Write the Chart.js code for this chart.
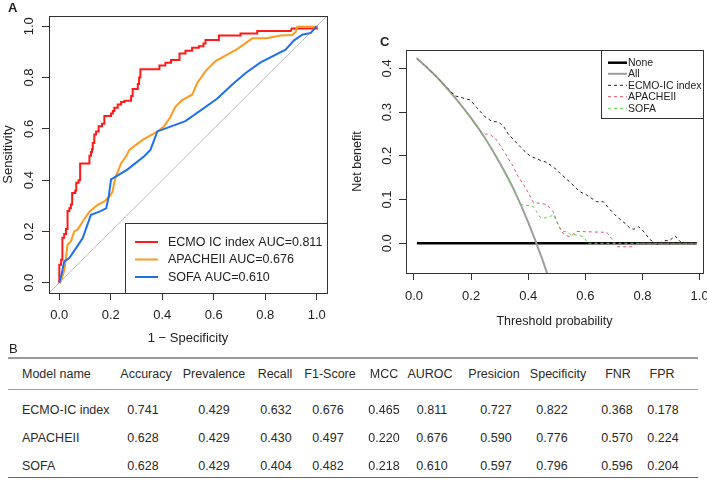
<!DOCTYPE html>
<html>
<head>
<meta charset="utf-8">
<script src="https://cdn.jsdelivr.net/npm/chart.js@4.4.1/dist/chart.umd.min.js"></script>
<style>
html,body{margin:0;padding:0;background:#fff;}
#wrap{position:relative;width:707px;height:481px;overflow:hidden;font-family:"Liberation Sans",Arial,sans-serif;color:#222;}
canvas{position:absolute;}
.lab{position:absolute;font-size:13px;line-height:13px;}
.cell{position:absolute;font-size:12.5px;line-height:14px;white-space:nowrap;transform:translateX(-50%);color:#2a2a2a;}
.cellL{position:absolute;font-size:12.5px;line-height:14px;white-space:nowrap;color:#2a2a2a;}
.hl{position:absolute;left:8px;width:690px;}
</style>
</head>
<body>
<div id="wrap">
  <canvas id="roc" width="345" height="350" style="left:0;top:0;width:345px;height:350px"></canvas>
  <canvas id="dca" width="362" height="320" style="left:345px;top:20px;width:362px;height:320px"></canvas>
  <div class="lab" style="left:8px;top:1px;font-weight:bold;">A</div>
  <div class="lab" style="left:380px;top:35px;font-weight:bold;">C</div>
  <div class="lab" style="left:9px;top:342px;">B</div>
  <div id="table"></div>
</div>
<script>
// ---------------- ROC data (panel A) ----------------
const rocTicks = [0, 0.2, 0.4, 0.6, 0.8, 1.0];
const rocTickLabels = ["0.0", "0.2", "0.4", "0.6", "0.8", "1.0"];

const ecmoFpr = [0,0,0.007,0.007,0.012,0.012,0.019,0.019,0.026,0.026,0.032,0.032,0.039,0.039,0.045,0.045,0.05,0.05,0.062,0.062,0.066,0.066,0.075,0.075,0.081,0.081,0.117,0.117,0.123,0.123,0.127,0.127,0.13,0.13,0.136,0.136,0.143,0.143,0.153,0.153,0.166,0.166,0.175,0.175,0.201,0.201,0.208,0.208,0.214,0.214,0.227,0.227,0.24,0.24,0.253,0.253,0.279,0.279,0.285,0.285,0.305,0.305,0.31,0.31,0.315,0.315,0.389,0.389,0.412,0.412,0.434,0.434,0.467,0.467,0.49,0.49,0.516,0.516,0.542,0.542,0.56,0.56,0.568,0.568,0.62,0.62,0.704,0.704,0.769,0.769,0.899,0.903,1.0,1.0];
const ecmoTpr = [0,0.07,0.07,0.09,0.09,0.175,0.175,0.19,0.19,0.21,0.21,0.28,0.28,0.29,0.29,0.305,0.305,0.35,0.35,0.36,0.36,0.39,0.39,0.40,0.40,0.465,0.465,0.495,0.495,0.51,0.51,0.52,0.52,0.545,0.545,0.578,0.578,0.59,0.59,0.61,0.61,0.62,0.62,0.65,0.65,0.66,0.66,0.67,0.67,0.682,0.682,0.695,0.695,0.705,0.705,0.71,0.71,0.728,0.728,0.755,0.755,0.775,0.775,0.80,0.80,0.832,0.832,0.847,0.847,0.858,0.858,0.868,0.868,0.894,0.894,0.905,0.905,0.916,0.916,0.922,0.922,0.933,0.933,0.946,0.946,0.964,0.964,0.972,0.972,0.982,0.982,0.991,0.991,1.0];

const apacheFpr = [0,0.004,0.02,0.032,0.045,0.058,0.071,0.091,0.117,0.149,0.175,0.195,0.207,0.214,0.22,0.24,0.259,0.272,0.322,0.38,0.406,0.432,0.451,0.477,0.516,0.536,0.568,0.607,0.691,0.75,0.805,0.86,0.905,0.918,0.925,0.996,1.0];
const apacheTpr = [0,0,0.05,0.148,0.161,0.2,0.207,0.239,0.277,0.304,0.317,0.336,0.355,0.394,0.414,0.466,0.492,0.518,0.556,0.589,0.609,0.647,0.686,0.712,0.733,0.779,0.825,0.864,0.911,0.953,0.953,0.964,0.966,0.978,0.998,0.998,1.0];

const sofaFpr = [0,0.01,0.019,0.039,0.065,0.091,0.123,0.156,0.182,0.192,0.201,0.263,0.331,0.354,0.381,0.49,0.613,0.672,0.724,0.782,0.879,0.912,0.944,0.977,0.996,1.0];
const sofaTpr = [0,0.038,0.083,0.096,0.135,0.174,0.265,0.277,0.29,0.336,0.403,0.44,0.494,0.518,0.590,0.630,0.717,0.773,0.818,0.859,0.909,0.945,0.967,0.974,0.996,1.0];

const refLine = [-0.05, 1.05];

const rocLegend = ["ECMO IC index AUC=0.811", "APACHEII AUC=0.676", "SOFA AUC=0.610"];

// ---------------- DCA data (panel C) ----------------
const dcaXTicks = [0, 0.2, 0.4, 0.6, 0.8, 1.0];
const dcaXTickLabels = ["0.0", "0.2", "0.4", "0.6", "0.8", "1.0"];
const dcaYTicks = [0, 0.1, 0.2, 0.3, 0.4];
const dcaYTickLabels = ["0.0", "0.1", "0.2", "0.3", "0.4"];

const noneThr = [0.01, 0.99];
const noneNb = [0, 0];
const allThr = [0.01, 0.05, 0.1, 0.15, 0.2, 0.25, 0.3, 0.35, 0.4, 0.45, 0.47];
const allNb = [0.423, 0.399, 0.366, 0.328, 0.286, 0.239, 0.184, 0.122, 0.048, -0.038, -0.077];

const ecmoThr = [0.01,0.05,0.1,0.144,0.196,0.22,0.249,0.275,0.294,0.313,0.33,0.36,0.385,0.406,0.441,0.465,0.5,0.511,0.546,0.581,0.605,0.64,0.663,0.685,0.71,0.74,0.757,0.77,0.786,0.8,0.827,0.845,0.856,0.865,0.879,0.895,0.914,0.932,0.94,0.99];
const ecmoNb = [0.423,0.399,0.366,0.337,0.328,0.31,0.289,0.278,0.278,0.268,0.25,0.229,0.212,0.2,0.19,0.185,0.168,0.16,0.14,0.118,0.11,0.095,0.095,0.078,0.061,0.045,0.034,0.032,0.038,0.03,0.008,0.0,-0.004,0.002,0.006,0.006,0.017,0.004,0,0];

const apacheThr = [0.01,0.05,0.1,0.15,0.2,0.231,0.25,0.266,0.29,0.313,0.348,0.36,0.395,0.418,0.447,0.465,0.488,0.5,0.517,0.529,0.546,0.57,0.675,0.692,0.71,0.768,0.78,0.99];
const apacheNb = [0.423,0.399,0.366,0.328,0.286,0.257,0.25,0.249,0.236,0.212,0.175,0.158,0.122,0.093,0.091,0.088,0.072,0.05,0.027,0.019,0.015,0.027,0.025,0.011,-0.008,-0.008,0,0];

const sofaThr = [0.01,0.05,0.1,0.15,0.2,0.25,0.3,0.35,0.365,0.377,0.383,0.418,0.441,0.453,0.476,0.488,0.5,0.511,0.517,0.535,0.546,0.57,0.593,0.61,0.99];
const sofaNb = [0.423,0.399,0.366,0.328,0.286,0.239,0.184,0.125,0.099,0.088,0.088,0.084,0.06,0.057,0.061,0.065,0.049,0.034,0.027,0.027,0.021,0.019,0.015,0.0,0];

const dcaLegend = ["None", "All", "ECMO-IC index", "APACHEII", "SOFA"];

// ---------------- Table data (panel B) ----------------
const tableHeaders = ["Model name","Accuracy","Prevalence","Recall","F1-Score","MCC","AUROC","Presicion","Specificity","FNR","FPR"];
const modelNames = ["ECMO-IC index","APACHEII","SOFA"];
const rowEcmo = ["0.741","0.429","0.632","0.676","0.465","0.811","0.727","0.822","0.368","0.178"];
const rowApache = ["0.628","0.429","0.430","0.497","0.220","0.676","0.590","0.776","0.570","0.224"];
const rowSofa = ["0.628","0.429","0.404","0.482","0.218","0.610","0.597","0.796","0.596","0.204"];

// ---------------- helpers ----------------
const FONT = '"Liberation Sans", Arial, sans-serif';
function pts(xs, ys){ return xs.map((x,i)=>({x:x, y:ys[i]})); }

function rStylePlugin(cfg){
  return {
    id: 'rstyle_' + cfg.name,
    afterDraw(chart){
      const ctx = chart.ctx, a = chart.chartArea;
      const xs = chart.scales.x, ys = chart.scales.y;
      ctx.save();
      if (cfg.legend){
        const L = cfg.legend;
        ctx.fillStyle = '#fff';
        ctx.fillRect(L.x0, L.y0, L.x1 - L.x0, L.y1 - L.y0);
        ctx.strokeStyle = '#333'; ctx.lineWidth = 1;
        ctx.strokeRect(L.x0 + 0.5, L.y0 + 0.5, L.x1 - L.x0, L.y1 - L.y0);
        ctx.font = L.font; ctx.textAlign = 'left'; ctx.textBaseline = 'middle';
        L.items.forEach((it, i) => {
          const ds = chart.data.datasets[it.ds];
          const y = L.rows[i];
          ctx.save();
          ctx.strokeStyle = ds.borderColor; ctx.lineWidth = ds.borderWidth;
          ctx.setLineDash(ds.borderDash || []);
          ctx.beginPath(); ctx.moveTo(L.lx0, y); ctx.lineTo(L.lx1, y); ctx.stroke();
          ctx.restore();
          ctx.fillStyle = '#222';
          ctx.fillText(it.text, L.tx, y + 0.5);
        });
      }
      ctx.strokeStyle = '#333'; ctx.lineWidth = 1;
      ctx.strokeRect(Math.round(a.left) + 0.5, Math.round(a.top) + 0.5, Math.round(a.right - a.left), Math.round(a.bottom - a.top));
      ctx.fillStyle = '#222';
      ctx.font = cfg.tickFont;
      ctx.textAlign = 'center'; ctx.textBaseline = 'middle';
      cfg.xTicks.forEach((v,i) => ctx.fillText(cfg.xTickLabels[i], xs.getPixelForValue(v), cfg.xTickY));
      cfg.yTicks.forEach((v,i) => {
        ctx.save(); ctx.translate(cfg.yTickX, ys.getPixelForValue(v)); ctx.rotate(-Math.PI/2);
        ctx.fillText(cfg.yTickLabels[i], 0, 0); ctx.restore();
      });
      ctx.font = cfg.titleFont;
      ctx.fillText(cfg.xTitle, (a.left + a.right)/2, cfg.xTitleY);
      ctx.save(); ctx.translate(cfg.yTitleX, (a.top + a.bottom)/2); ctx.rotate(-Math.PI/2);
      ctx.fillText(cfg.yTitle, 0, 0); ctx.restore();
      ctx.restore();
    }
  };
}

function axis(min, max, ticks, fitProp, fitVal){
  return {
    type: 'linear', min: min, max: max,
    afterBuildTicks: s => { s.ticks = ticks.map(v => ({value: v})); },
    afterFit: s => { s[fitProp] = fitVal; },
    ticks: {display: false},
    grid: {display: true, drawOnChartArea: false, drawTicks: true, tickLength: 7, color: '#333', lineWidth: 1},
    border: {display: false}
  };
}

Chart.defaults.font.family = FONT;
Chart.defaults.animation = false;

// ---------------- ROC chart ----------------
new Chart(document.getElementById('roc'), {
  type: 'line',
  data: {
    datasets: [
      {data: pts(refLine, refLine), borderColor: '#BEBEBE', borderWidth: 1, order: 3},
      {data: pts(ecmoFpr, ecmoTpr), borderColor: '#FF1A1A', borderWidth: 2, order: 2},
      {data: pts(apacheFpr, apacheTpr), borderColor: '#FF9A1F', borderWidth: 2, order: 1},
      {data: pts(sofaFpr, sofaTpr), borderColor: '#1E6FF0', borderWidth: 2, order: 0}
    ]
  },
  options: {
    responsive: false, devicePixelRatio: 1, animation: false,
    layout: {padding: {top: 16, right: 18, left: 0, bottom: 0}},
    elements: {point: {radius: 0}, line: {tension: 0, fill: false, borderJoinStyle: 'miter'}},
    datasets: {line: {clip: 0}},
    plugins: {legend: {display: false}, tooltip: {enabled: false}},
    scales: {
      x: axis(-0.04, 1.04, rocTicks, 'height', 57),
      y: axis(-0.04, 1.04, rocTicks, 'width', 49)
    }
  },
  plugins: [rStylePlugin({
    name: 'roc', tickFont: '13px ' + FONT, titleFont: '13px ' + FONT,
    xTicks: rocTicks, xTickLabels: rocTickLabels, yTicks: rocTicks, yTickLabels: rocTickLabels,
    xTickY: 315, yTickX: 29, xTitle: '1 \u2212 Specificity', xTitleY: 338, yTitle: 'Sensitivity', yTitleX: 8,
    legend: {x0: 125, y0: 223, x1: 327, y1: 293, font: '12.5px ' + FONT,
      lx0: 135, lx1: 158, tx: 168, rows: [242, 259.5, 277],
      items: [{ds:1, text: rocLegend[0]}, {ds:2, text: rocLegend[1]}, {ds:3, text: rocLegend[2]}]}
  })]
});

// ---------------- DCA chart ----------------
new Chart(document.getElementById('dca'), {
  type: 'line',
  data: {
    datasets: [
      {data: pts(noneThr, noneNb), borderColor: '#000000', borderWidth: 2.5, order: 5},
      {data: pts(allThr, allNb), borderColor: '#9E9E9E', borderWidth: 2, cubicInterpolationMode: 'monotone', order: 4},
      {data: pts(ecmoThr, ecmoNb), borderColor: '#222222', borderWidth: 1, borderDash: [3, 3], order: 3},
      {data: pts(apacheThr, apacheNb), borderColor: '#DF536B', borderWidth: 1, borderDash: [3, 3], order: 2},
      {data: pts(sofaThr, sofaNb), borderColor: '#61D04F', borderWidth: 1, borderDash: [3, 3], order: 1}
    ]
  },
  options: {
    responsive: false, devicePixelRatio: 1, animation: false,
    layout: {padding: {top: 30, right: 4, left: 0, bottom: 0}},
    elements: {point: {radius: 0}, line: {tension: 0, fill: false}},
    datasets: {line: {clip: 0}},
    plugins: {legend: {display: false}, tooltip: {enabled: false}},
    scales: {
      x: axis(-0.028, 1.012, dcaXTicks, 'height', 67),
      y: axis(-0.068, 0.442, dcaYTicks, 'width', 61)
    }
  },
  plugins: [rStylePlugin({
    name: 'dca', tickFont: '13px ' + FONT, titleFont: '12.5px ' + FONT,
    xTicks: dcaXTicks, xTickLabels: dcaXTickLabels, yTicks: dcaYTicks, yTickLabels: dcaYTickLabels,
    xTickY: 276, yTickX: 42, xTitle: 'Threshold probability', xTitleY: 302, yTitle: 'Net benefit', yTitleX: 13,
    legend: {x0: 256, y0: 30, x1: 358, y1: 98, font: '10.5px ' + FONT,
      lx0: 263, lx1: 282, tx: 283, rows: [42.7, 53.8, 65.3, 76.7, 88.3],
      items: dcaLegend.map((t, i) => ({ds: i, text: t}))}
  })]
});

// ---------------- Table ----------------
(function(){
  const T = document.getElementById('table');
  const colX = [22, 146, 214, 275, 330, 384, 430, 494, 558, 618, 662];
  const valX = [22, 143, 214, 276, 328, 384, 432, 496, 552, 617, 663];
  const headerY = 367, rowY = [403, 431, 459];
  function line(y, h, c){ const d = document.createElement('div'); d.className = 'hl'; d.style.top = y + 'px'; d.style.height = h + 'px'; d.style.background = c; T.appendChild(d); }
  line(357, 2, '#9a9a9a');
  line(389, 1, '#a0a0a0');
  line(477, 1, '#666');
  function cell(txt, x, y, left){ const d = document.createElement('div'); d.className = left ? 'cellL' : 'cell'; d.style.left = x + 'px'; d.style.top = y + 'px'; d.textContent = txt; T.appendChild(d); }
  tableHeaders.forEach((h, i) => cell(h, colX[i], headerY, i === 0));
  const rows = [rowEcmo, rowApache, rowSofa];
  rows.forEach((r, j) => {
    cell(modelNames[j], valX[0], rowY[j], true);
    r.forEach((v, i) => cell(v, valX[i + 1], rowY[j], false));
  });
})();
</script>
</body>
</html>
